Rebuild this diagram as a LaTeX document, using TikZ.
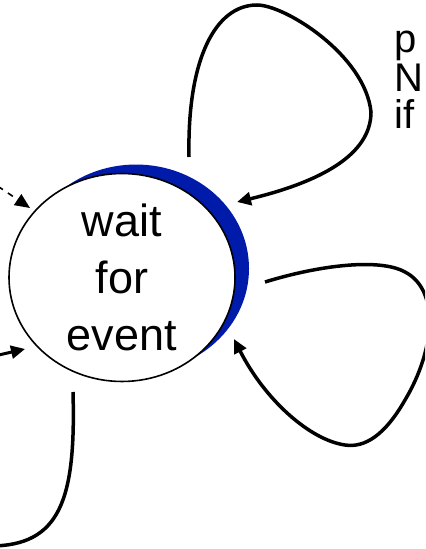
\documentclass[tikz,border=0pt]{standalone}
\usepackage{fontspec}
\setmainfont{Liberation Sans}
\usepackage{xcolor}
\usepackage{tikz}
\usetikzlibrary{arrows.meta,shapes.geometric,shadows}
\definecolor{stateblue}{RGB}{0,26,170}

\begin{document}
\begin{tikzpicture}[x=0.5pt,y=-0.5pt,
    trans/.style={line width=1.75pt,-{Triangle[length=7pt,width=6.5pt]}},
    actiontxt/.style={anchor=base west,inner sep=0pt,font=\fontsize{20}{22}\selectfont}]
  \useasboundingbox (0,0) rectangle (425,549);
  \clip (0,0) rectangle (425,549);
  % --- the state, with its blue shadow ------------------------------------
  \node[ellipse,draw,line width=0.8pt,fill=white,inner sep=0pt,
        minimum width=113pt,minimum height=102.5pt,align=center,
        font=\fontsize{22.5}{28.5}\selectfont,
        general shadow={fill=stateblue,shadow xshift=7pt,shadow yshift=4.5pt}]
        (wait) at (122,277.5) {wait\\for\\event};
  % --- action text, cut off at the right edge -----------------------------
  \node[actiontxt] (sendtxt) at (394,53) {p};
  \node[actiontxt] (seqtxt) at (394,92) {N};
  \node[actiontxt] (iftxt) at (394,129) {if};
  % --- loose ends of the transitions --------------------------------------
  \coordinate (toploopout) at (189,157);
  \coordinate (toploopin) at (237,202);
  \coordinate (rightloopout) at (265,282);
  \coordinate (rightloopin) at (234,339);
  \coordinate (bottomout) at (73,392);
  \coordinate (bottomoff) at (-10,546);
  \coordinate (initoff) at (-12,179.5);
  \coordinate (initin) at (30,208);
  \coordinate (leftoff) at (-10,357);
  \coordinate (leftin) at (25,349);
  % --- transitions --------------------------------------------------------
  \draw[trans] (toploopout) .. controls (187,60) and (215,5) .. (257,5)
     .. controls (285,5) and (365,55) .. (371,112)
     .. controls (371,155) and (320,182) .. (toploopin);
  \draw[trans] (rightloopout) .. controls (320,265) and (380,258) .. (405,272)
     .. controls (440,290) and (435,350) .. (405,400)
     .. controls (385,435) and (365,448) .. (345,445)
     .. controls (310,440) and (265,400) .. (rightloopin);
  \draw[line width=1.75pt] (bottomout) .. controls (76,500) and (60,546) .. (bottomoff);
  \draw[line width=0.8pt,dash pattern=on 3pt off 3pt,
        -{Triangle[length=7.5pt,width=6.5pt]}] (initoff) -- (initin);
  \draw[trans,line width=1.5pt] (leftoff) -- (leftin);
\end{tikzpicture}
\end{document}
